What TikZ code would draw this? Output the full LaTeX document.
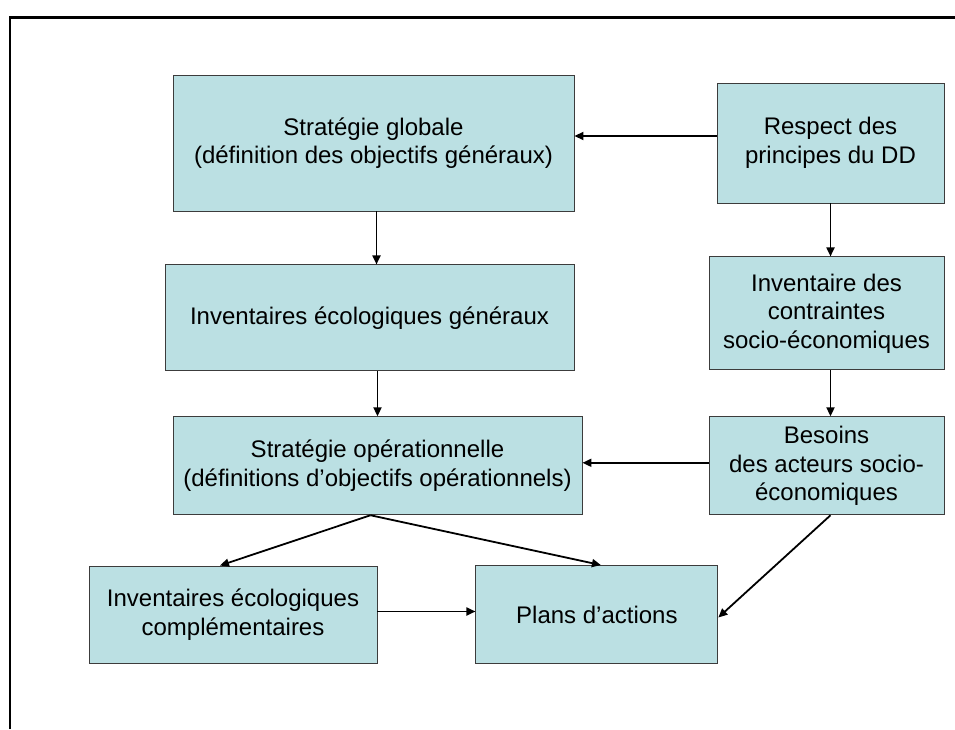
\documentclass[tikz,border=0pt]{standalone}
\usepackage{fontspec}
\setmainfont{Liberation Sans}
\usepackage{tikz}
\usetikzlibrary{arrows.meta, positioning}
\definecolor{boxfill}{RGB}{187, 224, 227}
\definecolor{boxline}{RGB}{60, 60, 60}

\begin{document}
\begin{tikzpicture}[x=1pt, y=1pt,
  node distance=53pt and 98pt,
  box/.style={draw=boxline, fill=boxfill, line width=0.9pt, align=center, inner sep=2pt,
    font=\fontsize{24}{28.5}\selectfont},
  arr/.style={-{Triangle[length=9pt, width=8pt]}, line width=1.8pt}]

  \useasboundingbox (0,0) rectangle (955,729);
  \draw[line width=2.8pt] (10,0) -- (10,711.5) -- (955,711.5);

  \node[box, minimum width=401pt, minimum height=136pt] (glob) at (373.5,586) {Stratégie globale\\(définition des objectifs généraux)};
  \node[box, minimum width=227pt, minimum height=120pt] (resp) at (830.5,586) {Respect des\\principes du DD};

  \node[box, minimum width=409pt, minimum height=106pt, below=53pt of glob, xshift=-4pt] (invgen) {Inventaires écologiques généraux};
  \node[box, minimum width=235pt, minimum height=113pt, below=53pt of resp, xshift=-4pt] (contr) {Inventaire des\\contraintes\\socio-économiques};

  \node[box, minimum width=409pt, minimum height=98pt, below=45pt of invgen, xshift=8pt] (oper) {Stratégie opérationnelle\\(définitions d’objectifs opérationnels)};
  \node[box, minimum width=235pt, minimum height=98pt, below=46pt of contr] (besoins) {Besoins\\des acteurs socio-\\économiques};

  \node[box, minimum width=288pt, minimum height=97pt] (compl) at (233,114.5) {Inventaires écologiques\\complémentaires};
  \node[box, minimum width=242pt, minimum height=98pt, right=98pt of compl] (plans) {Plans d’actions};

  \draw[arr] ([yshift=7pt]resp.west) -- ([yshift=7pt]glob.east);
  \draw[arr] ([xshift=3pt]glob.south) -- ([xshift=3pt]glob.south |- invgen.north);
  \draw[arr] (oper.north |- invgen.south) -- (oper.north);
  \draw[arr] (resp.south) -- (resp.south |- contr.north);
  \draw[arr] ([xshift=4pt]contr.south) -- ([xshift=4pt]besoins.north);
  \draw[arr] ([yshift=3pt]besoins.west) -- ([yshift=3pt]besoins.west -| oper.east);
  \draw[arr] ([xshift=-7pt]oper.south) -- ([xshift=-13pt]compl.north);
  \draw[arr] ([xshift=-7pt]oper.south) -- ([xshift=4pt]plans.north);
  \draw[arr] ([yshift=3pt]compl.east) -- ([yshift=3pt]compl.east -| plans.west);
  \draw[arr] ([xshift=4pt]besoins.south) -- ([yshift=-3pt]plans.east);
\end{tikzpicture}
\end{document}
